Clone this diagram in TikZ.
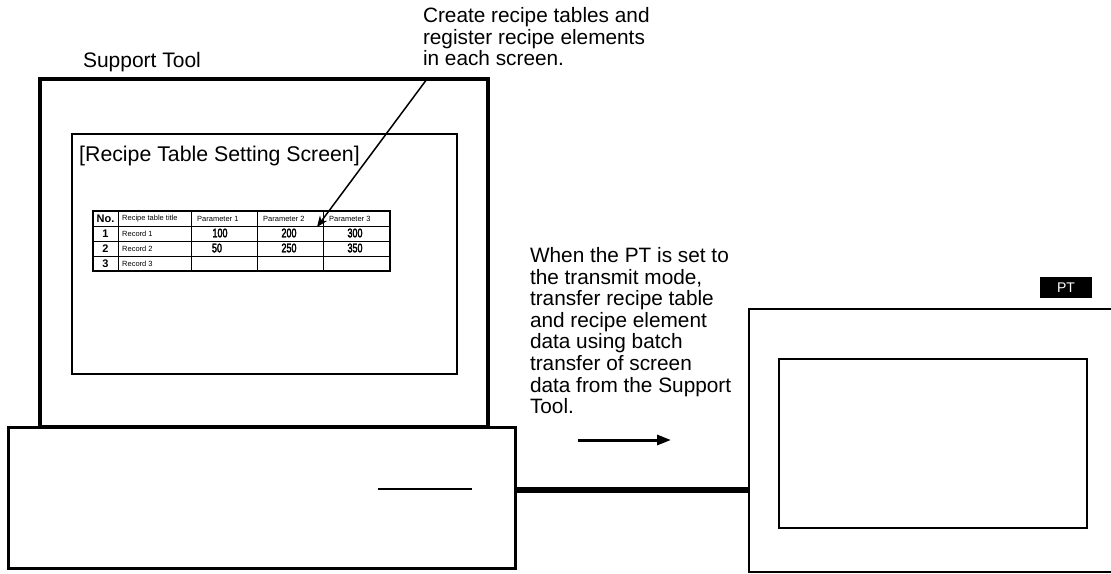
\documentclass[tikz,border=0pt]{standalone}
\usepackage{fontspec}
\setmainfont{Liberation Sans}
\newfontfamily\condfont[FakeStretch=0.72,FakeBold=2.5]{Liberation Sans}
\usetikzlibrary{arrows.meta,calc}
\tikzset{
  box/.style={draw, rectangle, inner sep=0pt, outer sep=0pt},
  label/.style={inner sep=0pt, outer sep=0pt, align=left, font=\fontsize{20.8}{21.6}\selectfont},
  cell/.style={inner sep=0pt, font=\fontsize{7.5}{9}\selectfont},
  num/.style={inner sep=0pt, font=\condfont\fontsize{12.5}{12.5}\selectfont},
  idx/.style={inner sep=0pt, font=\bfseries\fontsize{11}{11}\selectfont},
}
\begin{document}
\begin{tikzpicture}[x=1pt,y=-1pt]
\useasboundingbox (0,0) rectangle (1111,573);
% Support Tool computer
\node[box, line width=4pt, minimum width=448pt, minimum height=348pt] (monitor) at (264,253) {};
\node[box, line width=1.6pt, minimum width=385pt, minimum height=240pt] (screen) at (264.5,254) {};
\node[box, line width=3pt, minimum width=507pt, minimum height=141pt, fill=white] (base) at (261.5,497.5) {};
\coordinate (slotA) at (378,489);
\coordinate (slotB) at (472,489);
\draw[line width=2pt] (slotA) -- (slotB);
% PT
\node[box, line width=1.8pt, minimum width=380pt, minimum height=263pt] (pt) at (939,440.5) {};
\node[box, line width=1.8pt, minimum width=308pt, minimum height=169pt] (ptscreen) at (933,443.5) {};
\node[fill=black, text=white, inner sep=0pt, minimum width=52pt, minimum height=21pt, font=\fontsize{14}{14}\selectfont] (ptlabel) at (1066,287.5) {PT};
% cable
\coordinate (cy) at (0,490);
\draw[line width=5.5pt] (base.east |- cy) -- (pt.west |- cy);
% transfer arrow
\coordinate (trA) at (578,440);
\coordinate (trB) at (671,440);
\draw[line width=3pt, -{Triangle[length=14pt,width=10pt]}] (trA) -- (trB);
% texts
\node[label, anchor=base west, font=\fontsize{21}{21.6}\selectfont] (support) at (83,67) {Support Tool};
\node[label, anchor=north west] (create) at (423,7.5) {Create recipe tables and\\register recipe elements\\in each screen.};
\node[label, anchor=north west] (when) at (530,247.5) {When the PT is set to\\the transmit mode,\\transfer recipe table\\and recipe element\\data using batch\\transfer of screen\\data from the Support\\Tool.};
\node[inner sep=0pt, anchor=base west, font=\fontsize{21.3}{24}\selectfont] (title) at (79,161) {[Recipe Table Setting Screen]};
% table
\def\xa{93}\def\xb{118}\def\xc{191}\def\xd{257}\def\xe{323}\def\xf{390}
\draw[line width=0.8pt] (\xb,211) -- (\xb,271) (\xc,211) -- (\xc,271) (\xd,211) -- (\xd,271) (\xe,211) -- (\xe,271);
\draw[line width=0.8pt] (\xa,226) -- (\xf,226) (\xa,241) -- (\xf,241) (\xa,256) -- (\xf,256);
\node[box, line width=1.4pt, minimum width=297pt, minimum height=60pt] (table) at (241.5,241) {};
\node[idx] (h0) at (105.5,218.5) {No.};
\node[cell, anchor=west] (h1) at (122,218.5) {Recipe table title};
\node[cell, anchor=west] (h2) at (197,218.5) {Parameter 1};
\node[cell, anchor=west] (h3) at (263,218.5) {Parameter 2};
\node[cell, anchor=west] (h4) at (329,218.5) {Parameter 3};
\node[idx] (r1) at (105.5,233.5) {1};
\node[idx] (r2) at (105.5,248.5) {2};
\node[idx] (r3) at (105.5,263.5) {3};
\node[cell, anchor=west] (t1) at (122,233.5) {Record 1};
\node[cell, anchor=west] (t2) at (122,248.5) {Record 2};
\node[cell, anchor=west] (t3) at (122,263.5) {Record 3};
\node[num] (v11) at (220,233) {100};
\node[num] (v12) at (289,233) {200};
\node[num] (v13) at (355,233) {300};
\node[num] (v21) at (217,248) {50};
\node[num] (v22) at (289,248) {250};
\node[num] (v23) at (355,248) {350};
% callout arrow
\coordinate (calloutA) at (427,79);
\coordinate (calloutB) at (317,227);
\draw[line width=1.5pt, -{Stealth[length=11pt,width=9pt]}] (calloutA) -- (calloutB);
\end{tikzpicture}
\end{document}
